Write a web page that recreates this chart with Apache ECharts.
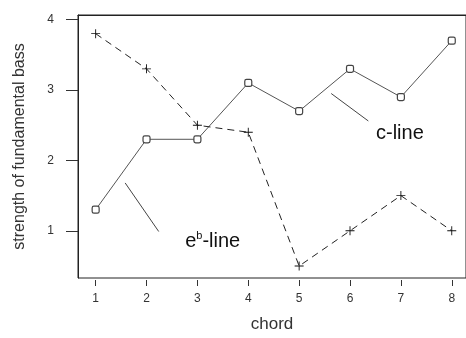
<!DOCTYPE html>
<html>
<head>
<meta charset="utf-8">
<script src="https://cdn.jsdelivr.net/npm/echarts@6/dist/echarts.min.js"></script>
<style>html,body{margin:0;padding:0;background:#fff}#c{width:466px;height:338px}</style>
</head>
<body>
<div id="c"></div>
<script>
var chords = [1, 2, 3, 4, 5, 6, 7, 8];
var cLine = [1.3, 2.3, 2.3, 3.1, 2.7, 3.3, 2.9, 3.7];
var ebLine = [3.8, 3.3, 2.5, 2.4, 0.5, 1.0, 1.5, 1.0];
var yTicks = [1, 2, 3, 4];
// annotation pointers (data coordinates)
var ebPointer = [[1.58, 1.68], [2.24, 0.99]];
var cPointer = [[5.63, 2.95], [6.36, 2.56]];
var ebLabelPos = [3.30, 0.845];
var cLabelPos = [6.98, 2.38];

var font = 'Liberation Sans, Arial, sans-serif';
var plusPath = 'path://M4.5,0h1v10h-1zM0,4.5h10v1h-10z';

var chart = echarts.init(document.getElementById('c'), null, {renderer: 'canvas'});
chart.setOption({
  animation: false,
  backgroundColor: '#fff',
  grid: {left: 78, top: 15, bottom: 57, right: -8, containLabel: false,
         show: true, borderColor: '#222', borderWidth: 1, backgroundColor: 'transparent'},
  xAxis: [{
    type: 'value', min: 0.653, max: 8.28,
    name: 'chord', nameLocation: 'middle', nameGap: 36,
    nameTextStyle: {fontFamily: font, fontSize: 17, color: '#333'},
    offset: 2,
    axisLine: {show: false},
    splitLine: {show: false},
    axisTick: {show: true, length: 6, lineStyle: {color: '#333'}, customValues: chords},
    axisLabel: {fontFamily: font, fontSize: 12, color: '#333', margin: 13, customValues: chords}
  }, {
    type: 'value', min: 0.653, max: 8.28, position: 'top',
    axisLine: {show: true, onZero: false, lineStyle: {color: '#222', width: 1}},
    axisTick: {show: false}, axisLabel: {show: false}, splitLine: {show: false}
  }],
  yAxis: {
    type: 'value', min: 0.33, max: 4.065,
    name: 'strength of fundamental bass', nameLocation: 'middle', nameGap: 50, nameRotate: 90,
    nameTextStyle: {fontFamily: font, fontSize: 16, color: '#333'},
    axisLine: {show: true, onZero: false, lineStyle: {color: '#222', width: 1}},
    splitLine: {show: false},
    axisTick: {show: true, length: 12, lineStyle: {color: '#333'}, customValues: yTicks},
    axisLabel: {fontFamily: font, fontSize: 12, color: '#333', margin: 24, customValues: yTicks}
  },
  series: [
    {
      type: 'line', name: 'c-line',
      data: chords.map(function (x, i) { return [x, cLine[i]]; }),
      symbol: 'roundRect', symbolSize: 7, showAllSymbol: true,
      lineStyle: {color: '#555', width: 1, type: 'solid'},
      itemStyle: {color: '#fff', borderColor: '#444', borderWidth: 1.2},
      markLine: {
        silent: true, symbol: 'none', label: {show: false},
        lineStyle: {color: '#444', width: 1, type: 'solid'},
        data: [[{coord: cPointer[0]}, {coord: cPointer[1]}]]
      },
      markPoint: {
        symbol: 'circle', symbolSize: 0,
        label: {show: true, position: 'inside', formatter: 'c-line',
                fontFamily: font, fontSize: 20, color: '#111'},
        data: [{coord: cLabelPos}]
      },
      z: 3
    },
    {
      type: 'line', name: 'eb-line',
      data: chords.map(function (x, i) { return [x, ebLine[i]]; }),
      symbol: plusPath, symbolSize: 9, showAllSymbol: true,
      lineStyle: {color: '#222', width: 1, type: [7, 5]},
      itemStyle: {color: '#111'},
      markLine: {
        silent: true, symbol: 'none', label: {show: false},
        lineStyle: {color: '#444', width: 1, type: 'solid'},
        data: [[{coord: ebPointer[0]}, {coord: ebPointer[1]}]]
      },
      markPoint: {
        symbol: 'circle', symbolSize: 0,
        label: {show: true, position: 'inside',
                formatter: '{a|e}{b|b}{a|-line}',
                rich: {
                  a: {fontFamily: font, fontSize: 20, color: '#111'},
                  b: {fontFamily: font, fontSize: 11, color: '#111', verticalAlign: 'top', padding: [0, 0, 12, 0]}
                }},
        data: [{coord: ebLabelPos}]
      },
      z: 3
    }
  ]
});
</script>
</body>
</html>
